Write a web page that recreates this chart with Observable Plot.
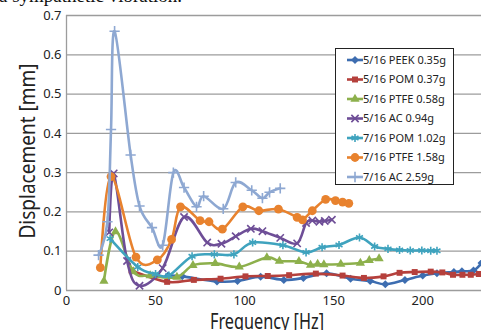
<!DOCTYPE html>
<html><head><meta charset="utf-8">
<script src="https://cdn.jsdelivr.net/npm/d3@7"></script>
<script src="https://cdn.jsdelivr.net/npm/@observablehq/plot@0.6"></script>
<style>
html,body{margin:0;padding:0;background:#fff;overflow:hidden;}
#wrap{position:relative;width:481px;height:330px;overflow:hidden;}
#top{position:absolute;left:-1px;top:-15px;font-family:"Liberation Serif",serif;font-size:19px;line-height:22px;white-space:nowrap;color:#111;}
#chart{position:absolute;left:0;top:0;}
#legend{position:absolute;left:335px;top:48px;width:117px;height:135px;border:1px solid #222;background:#fff;font-family:"Noto Sans",sans-serif;font-size:11px;color:#222;}
#legend svg{display:block;}
</style></head><body>
<div id="wrap"><div id="chart"></div><div id="top">a sympathetic vibration.</div><div id="legend"></div></div>
<script>
const seriesNames = ["5/16 PEEK 0.35g","5/16 POM 0.37g","5/16 PTFE 0.58g","5/16 AC 0.94g","7/16 POM 1.02g","7/16 PTFE 1.58g","7/16 AC 2.59g"];
const seriesColors = ["#3d6db0","#b5403c","#8db04c","#6e4e97","#3fa3be","#e8822e","#8ea8d2"];
const seriesSymbols = ["diamond2","square2","triangle2","times","asterisk","circle","plus"];

const peekHz = [57,65,84.5,96,109,122,133,146,159.5,170.5,179,190,200,208,217.5,222,228.5,233];
const peekMm = [0.038,0.036,0.023,0.024,0.035,0.027,0.032,0.044,0.030,0.024,0.016,0.027,0.038,0.044,0.047,0.049,0.051,0.07];
const pom037Hz = [36.5,56.5,71.5,86.5,100.5,113,125,140,155,167,178,187,195.5,204.5,211,217,222.3,227,231.5];
const pom037Mm = [0.051,0.022,0.027,0.030,0.036,0.037,0.039,0.043,0.038,0.032,0.036,0.045,0.047,0.048,0.046,0.040,0.040,0.040,0.042];
const ptfe058Hz = [21,27.5,37.5,47,62,71,83.5,97,112.5,119.5,130.5,137,141,144.5,154,165,170,175.5];
const ptfe058Mm = [0.024,0.15,0.048,0.038,0.034,0.064,0.069,0.060,0.084,0.075,0.074,0.065,0.067,0.066,0.067,0.070,0.077,0.081];
const ac094Hz = [24,26.5,34,41,54,66,79,87,95,103.5,110,120,129.5,134.5,138,142,145,149];
const ac094Mm = [0.148,0.298,0.075,0.012,0.057,0.187,0.122,0.119,0.138,0.157,0.151,0.134,0.120,0.172,0.178,0.175,0.177,0.180];
const pom102Hz = [24.5,40,50,57.5,70.5,83,94,104.5,121.5,134.5,143.5,153,164.5,173,180.5,187,193,199.5,204.5,208];
const pom102Mm = [0.132,0.06,0.042,0.038,0.087,0.092,0.092,0.122,0.115,0.097,0.110,0.116,0.135,0.112,0.106,0.103,0.102,0.102,0.101,0.101];
const ptfe158Hz = [19,25,39,51,59,64,75,80,87.5,99,108,119,129.5,132.5,138,145.5,151,155,158.5];
const ptfe158Mm = [0.058,0.29,0.085,0.078,0.13,0.213,0.178,0.175,0.156,0.213,0.203,0.207,0.186,0.18,0.203,0.232,0.229,0.225,0.222];
const ac259Hz = [18,23,25,27,36,41,48,54,60,66,73,77,88,95,104,110,114,120];
const ac259Mm = [0.09,0.175,0.41,0.66,0.345,0.215,0.16,0.115,0.30,0.262,0.213,0.24,0.208,0.275,0.255,0.235,0.25,0.26];

const xTicks = [0,50,100,150,200];
const yTicks = [0,0.1,0.2,0.3,0.4,0.5,0.6,0.7];
const yTitle = "Displacement [mm]";
const xTitle = "Frequency [Hz]";

const hzLists = [peekHz,pom037Hz,ptfe058Hz,ac094Hz,pom102Hz,ptfe158Hz,ac259Hz];
const mmLists = [peekMm,pom037Mm,ptfe058Mm,ac094Mm,pom102Mm,ptfe158Mm,ac259Mm];
const strokeSymbols = new Set(["times","asterisk","plus"]);
const symbolR = {diamond2:3.6,square2:3.8,triangle2:4.4,times:3.4,asterisk:3.8,circle:4.4,plus:3.4};

const marks = [
  Plot.gridY(yTicks, {stroke:"#9c9c9c", strokeOpacity:1, strokeWidth:1.3}),
  Plot.ruleX([0], {stroke:"#9c9c9c", strokeWidth:1.3}),
];
seriesNames.forEach((name,i)=>{
  const rows = hzLists[i].map((hz,j)=>({name, hz, mm:mmLists[i][j]}));
  const sym = seriesSymbols[i];
  marks.push(Plot.line(rows,{x:"hz",y:"mm",stroke:seriesColors[i],strokeWidth:2.6,curve:"cardinal",clip:true}));
  const dotOpts = {x:"hz",y:"mm",symbol:()=>sym,r:symbolR[sym],clip:true};
  if (strokeSymbols.has(sym)) { dotOpts.stroke = seriesColors[i]; dotOpts.strokeWidth = 1.6; dotOpts.fill = "none"; }
  else { dotOpts.fill = seriesColors[i]; dotOpts.stroke = "none"; }
  marks.push(Plot.dot(rows, dotOpts));
});
marks.push(Plot.text([yTitle], {frameAnchor:"left", textAnchor:"middle", lineAnchor:"middle", dx:-38, dy:-2, rotate:-90, fontSize:21, fill:"#222", className:"ytitle"}));
marks.push(Plot.text([xTitle], {frameAnchor:"bottom", textAnchor:"middle", lineAnchor:"middle", dx:-7, dy:32, fontSize:21, fill:"#222", className:"xtitle"}));

const chart = Plot.plot({
  width:481, height:330,
  marginLeft:66, marginRight:0, marginTop:15, marginBottom:40,
  style:{fontFamily:"'Noto Sans', sans-serif", fontSize:"13px", color:"#222", background:"transparent", overflow:"visible"},
  x:{domain:[0,233], ticks:xTicks, tickSize:0, tickPadding:5, label:null},
  y:{domain:[0,0.7], ticks:yTicks, tickSize:0, tickPadding:5, label:null, tickFormat:d=> d===0 ? "0" : d3.format(".1f")(d)},
  marks
});
document.getElementById("chart").appendChild(chart);
d3.select(chart).selectAll("g.ytitle text").attr("textLength",175).attr("lengthAdjust","spacingAndGlyphs");
d3.select(chart).selectAll("g.xtitle text").attr("textLength",114).attr("lengthAdjust","spacingAndGlyphs");

// legend
const lg = d3.select("#legend").append("svg").attr("width",117).attr("height",135);
const typeMap = {diamond2:d3.symbolDiamond2,square2:d3.symbolSquare2,triangle2:d3.symbolTriangle2,times:d3.symbolTimes,asterisk:d3.symbolAsterisk,circle:d3.symbolCircle,plus:d3.symbolPlus};
seriesNames.forEach((name,i)=>{
  const y = 11 + i*19.5;
  const g = lg.append("g").attr("transform",`translate(0,${y})`);
  g.append("line").attr("x1",11).attr("x2",27).attr("y1",0).attr("y2",0).attr("stroke",seriesColors[i]).attr("stroke-width",2.6);
  const sym = seriesSymbols[i];
  const r = symbolR[sym];
  const p = g.append("path").attr("transform","translate(19,0)").attr("d", d3.symbol(typeMap[sym], r*r*Math.PI)());
  if (strokeSymbols.has(sym)) p.attr("fill","none").attr("stroke",seriesColors[i]).attr("stroke-width",1.6);
  else p.attr("fill",seriesColors[i]);
  g.append("text").attr("x",27).attr("y",0).attr("dy","0.35em").attr("font-size","11px").attr("fill","#222").text(name);
});
</script>
</body></html>
